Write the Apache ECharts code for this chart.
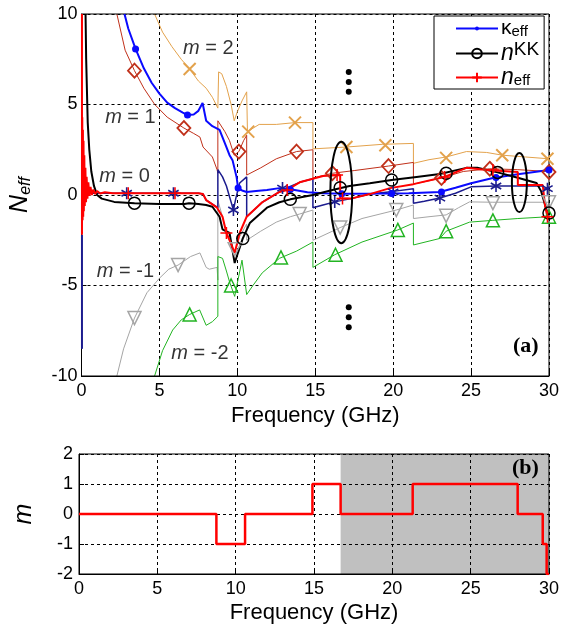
<!DOCTYPE html>
<html><head><meta charset="utf-8">
<script src="https://cdn.jsdelivr.net/npm/echarts@6/dist/echarts.min.js"></script>
<style>html,body{margin:0;padding:0;background:#fff}#c{width:562px;height:630px}</style>
</head><body><div id="c"></div>
<script>
// ---------- data ----------
const freqTicks = [0, 5, 10, 15, 20, 25, 30];
const neffTicks = [-10, -5, 0, 5, 10];
const mTicks = [-2, -1, 0, 1, 2];

// kappa_eff (blue, dots)
const kappaLine = [[2.76,10],[3.0,9.2],[3.47,8.07],[4.0,7.0],[4.5,6.2],[5.0,5.6],[5.5,5.1],[6.0,4.8],[6.5,4.55],[6.8,4.42],[7.2,4.45],[7.5,4.65],[7.77,5.08],[8.0,4.1],[8.4,3.8],[8.86,3.6],[9.0,3.3],[9.3,2.65],[9.5,2.2],[9.7,1.9],[9.95,1.0],[10.05,0.38],[10.3,0.25],[10.6,0.17],[11.2,0.22],[11.9,0.28],[12.7,0.38],[13.5,0.3],[14.5,0.15],[15.5,0.1],[17,0.07],[19.8,0.08],[21,0.1],[23,0.17],[24,0.4],[25,0.65],[26.4,0.94],[28,1.15],[30,1.38]];
const kappaMarks = [[3.47,8.07],[6.8,4.42],[10.05,0.38],[13.4,0.3],[16.7,0.07],[19.9,0.08],[23.1,0.17],[26.6,0.97],[30,1.38]];

// n^KK (black, circles)
const nkkLine = [[0.26,10],[0.3,7.5],[0.4,4.0],[0.5,2.5],[0.63,1.3],[0.8,0.5],[1.0,0.0],[1.3,-0.2],[2.1,-0.38],[3.4,-0.45],[5,-0.5],[6.6,-0.5],[6.9,-0.45],[7.5,-0.5],[8.0,-0.55],[8.4,-0.65],[8.86,-1.2],[9.05,-1.9],[9.5,-2.1],[9.83,-3.76],[10.0,-3.3],[10.35,-2.4],[10.8,-1.55],[11.9,-0.7],[12.7,-0.4],[13.4,-0.24],[14.85,0],[16.1,0.28],[17.2,0.5],[18.5,0.65],[19.9,0.83],[21.5,1.0],[23,1.16],[24.7,1.5],[25.4,1.5],[26.7,1.25],[28,0.95],[29.2,0.66],[29.5,0.2],[29.9,-1.0],[30,-1.1]];
const nkkMarks = [[3.4,-0.45],[6.9,-0.45],[10.35,-2.4],[13.4,-0.24],[16.6,0.4],[19.9,0.83],[23.4,1.2],[26.7,1.25],[30,-1.0]];

// n_eff (red, plus)
const neffLine = [[0.03,10],[0.03,-2.2],[0.05,4.3],[0.07,-1.4],[0.09,3.6],[0.11,-1.2],[0.13,3.0],[0.15,-0.9],[0.18,2.2],[0.21,-0.6],[0.25,1.5],[0.29,-0.4],[0.33,1.0],[0.38,-0.2],[0.44,0.7],[0.5,-0.05],[0.58,0.45],[0.66,0.0],[0.76,0.3],[0.88,0.05],[1.0,0.22],[1.2,0.08],[1.5,0.15],[2.0,0.1],[3.0,0.1],[6.0,0.1],[7.5,0.1],[7.8,0.05],[8.0,-0.28],[8.7,-0.7],[9.05,-1.2],[9.3,-2.1],[9.6,-2.7],[9.83,-3.2],[10.15,-2.1],[10.6,-1.2],[11.6,-0.4],[12.7,0.17],[13.2,0.28],[14,0.7],[15.5,1.05],[16.6,1.1],[16.6,-0.2],[17.3,-0.2],[18.5,0.05],[19.8,0.38],[21.3,0.6],[23,0.94],[23.3,1.0],[24.7,1.5],[26,1.38],[28,1.27],[28,0.55],[29.6,0.55],[29.75,-0.6],[29.9,-1.2],[30,-1.3]];
const neffMarks = [[3.0,0.1],[6.0,0.1],[9.3,-2.1],[13.2,0.28],[16.4,1.1],[16.75,-0.2],[23.3,1.0],[26.4,1.38],[29.9,-1.2]];

// branches m = 2 ... -2
const m2Line = [[4.69,10],[5.2,9.0],[5.8,8.2],[6.4,7.5],[6.94,6.96],[7.5,6.3],[8.0,5.9],[8.4,5.4],[8.75,4.8],[8.8,6.8],[9.0,6.7],[9.3,6.0],[9.6,5.0],[9.8,4.1],[10.0,4.6],[10.3,5.2],[10.6,5.7],[10.65,3.5],[11.4,3.9],[12.5,3.9],[13.7,4.0],[14.85,4.0],[14.85,2.55],[17.0,2.65],[19.3,2.8],[21.3,2.85],[21.3,1.75],[22.3,1.95],[23.4,2.1],[24.7,2.4],[26,2.35],[27,2.2],[28.5,2.1],[30,2.0]];
const m2Marks = [[6.94,6.96],[10.7,3.5],[13.7,4.0],[17.0,2.65],[19.5,2.75],[23.4,2.05],[27,2.2],[29.9,2.0]];

const m1Line = [[2.27,10],[2.8,8.0],[3.4,6.87],[4.0,5.9],[4.7,5.0],[5.5,4.3],[6.57,3.7],[7.2,3.4],[7.6,3.2],[7.8,2.65],[8.4,2.1],[8.7,1.4],[8.75,1.2],[8.75,4.1],[9.2,3.5],[9.5,3.0],[9.8,2.2],[10.1,2.4],[10.4,3.0],[10.6,3.3],[10.6,1.1],[11.5,1.5],[12.5,2.0],[13.8,2.4],[14.85,2.5],[14.85,0.94],[16.1,1.2],[17.5,1.35],[19.7,1.6],[21.3,1.8],[21.3,0.6],[23.1,0.94],[24.5,1.3],[26.2,1.45],[28,1.4],[30,1.3]];
const m1Marks = [[3.4,6.87],[6.57,3.7],[10.1,2.4],[13.8,2.4],[16.1,1.2],[19.7,1.6],[23.1,0.94],[26.2,1.45],[30,1.27]];

const m0Line = [[0.6,0.1],[2.9,0.1],[5.9,0.1],[7.5,0.1],[7.8,0.05],[8.0,-0.28],[8.75,-0.7],[8.75,1.4],[9.05,1.0],[9.3,0.5],[9.5,-0.1],[9.75,-0.83],[9.9,-0.2],[10.15,0.66],[10.6,1.0],[10.6,-1.2],[11.6,-0.4],[12.7,0.17],[12.9,0.3],[14,0.7],[14.85,0.9],[14.85,-0.7],[15.5,-0.55],[16.25,-0.38],[17.3,-0.2],[18.5,0.05],[20,0.2],[21.3,0.35],[21.3,-0.45],[22,-0.35],[23,-0.17],[24,0.1],[25,0.45],[26.6,0.5],[29.6,0.5],[29.7,0.3],[30,0.45]];
const m0Axis = [[0.03,-2.2],[0.03,-8.5]];
const m0Marks = [[2.9,0.1],[5.9,0.1],[9.75,-0.83],[12.9,0.38],[16.25,-0.38],[20,0.17],[23,-0.17],[26.6,0.5],[29.9,0.35]];

const mm1Line = [[2.27,-10],[2.7,-8.5],[3.4,-6.8],[4.2,-5.4],[5.0,-4.6],[5.6,-4.1],[6.2,-3.87],[7.0,-3.4],[7.6,-3.2],[8.0,-4.0],[8.2,-4.1],[8.7,-4.0],[8.75,-4.7],[8.75,-0.3],[9.05,-1.2],[9.3,-2.1],[9.6,-2.7],[9.83,-3.2],[10.15,-2.3],[10.6,-1.6],[10.6,-2.5],[11.5,-2.0],[12.5,-1.5],[13.4,-1.2],[14,-1.05],[14.85,-0.83],[14.85,-2.5],[16.6,-1.8],[18,-1.3],[20.2,-0.83],[21.3,-0.55],[21.3,-1.3],[22.3,-1.2],[23.4,-1.1],[24.2,-0.7],[24.9,-0.38],[26.4,-0.4],[28,-0.4],[30,-0.4]];
const mm1Marks = [[3.4,-6.8],[6.2,-3.87],[9.83,-3.0],[14.0,-1.05],[16.6,-1.8],[20.2,-0.83],[23.4,-1.15],[26.4,-0.45],[30,-0.4]];

const mm2Line = [[4.69,-10],[5.2,-8.6],[5.85,-7.46],[6.4,-6.9],[6.94,-6.6],[7.58,-6.35],[8.0,-7.2],[8.4,-7.0],[8.75,-6.7],[8.75,-3.4],[9.05,-3.5],[9.3,-4.2],[9.5,-4.8],[9.83,-5.6],[10.3,-3.6],[10.6,-5.5],[11.0,-5.0],[11.6,-4.3],[12.7,-3.5],[13.8,-3.1],[14.85,-2.6],[14.85,-4.0],[16.25,-3.3],[18,-2.6],[20.3,-1.93],[21.3,-1.55],[21.3,-2.76],[23,-2.4],[23.4,-2.0],[24.9,-1.5],[26.4,-1.4],[28,-1.3],[30,-1.2]];
const mm2Marks = [[6.94,-6.6],[9.6,-5.0],[12.8,-3.45],[16.3,-3.3],[20.3,-1.93],[23.4,-2.0],[26.4,-1.4],[30,-1.2]];

// annotations
const ellipses = [[16.67,0.14,0.7,2.8],[28.1,0.69,0.48,1.63]];
const dots = [[17.15,6.8],[17.15,6.25],[17.15,5.7],[17.15,-6.2],[17.15,-6.75],[17.15,-7.3]];
const branchLabels = [[8.14,8.07,'2'],[3.14,4.3,'1'],[2.76,1.0,'0'],[2.82,-4.25,'-1'],[7.6,-8.73,'-2']];

// panel (b): branch index m (step changes)
const mSteps = [[0,0],[8.77,-1],[10.6,0],[14.9,1],[16.7,0],[21.3,1],[28.0,0],[29.6,-1],[29.85,-2],[30,-2]];
const shadedRange = [16.7, 30];

// ---------- chart ----------
const FONT = "'Liberation Sans', Arial, sans-serif";
const C = {blue:'#0a0aff', black:'#000', red:'#ff0000', m2:'#e3a24c', m1:'#c0301a', m0:'#1c1c8e', mm1:'#a5a5a5', mm2:'#22b422'};
const ASTER = 'path://M0,-10L0,10M-8.66,-5L8.66,5M-8.66,5L8.66,-5';
const XCROSS = 'path://M-1,-1L1,1M-1,1L1,-1';
const PLUS = 'path://M0,-1L0,1M-1,0L1,0';
const SMALLDOT = 'path://M0,0L0.01,0M10,10L10.01,10M3,5A2,2 0 1,1 7,5A2,2 0 1,1 3,5Z';

function lineS(name, data, color, width, z, extra) {
  return Object.assign({type:'line', name, data, xAxisIndex:0, yAxisIndex:0, showSymbol:false, symbol:'none',
    lineStyle:{color, width}, itemStyle:{color}, z, silent:true, animation:false, clip:true}, extra||{});
}
function markS(data, symbol, size, fill, stroke, bw, z, rotate) {
  return {type:'scatter', data, xAxisIndex:0, yAxisIndex:0, symbol, symbolSize:size, symbolRotate:rotate||0,
    symbolKeepAspect:true, itemStyle:{color:fill, borderColor:stroke, borderWidth:bw, opacity:1}, z, silent:true, animation:false};
}

function axisCommon(grid) {
  return {
    gridIndex:grid, type:'value',
    axisLine:{show:true, onZero:false, lineStyle:{color:'#000', width:1}},
    axisTick:{show:true, inside:true, length:5, lineStyle:{color:'#000'}},
    splitLine:{show:true, lineStyle:{color:'#000', type:[3,3], width:1}},
    axisLabel:{color:'#000', fontSize:18, fontFamily:FONT},
    nameTextStyle:{color:'#000', fontFamily:FONT}
  };
}

const option = {
  animation:false,
  backgroundColor:'#fff',
  grid:[
    {left:81, top:14, width:468, height:362, show:true, borderColor:'#000', borderWidth:1, backgroundColor:'transparent', z:3},
    {left:79, top:454, width:470, height:120, show:true, borderColor:'#000', borderWidth:1, backgroundColor:'transparent', z:3}
  ],
  xAxis:[
    Object.assign(axisCommon(0), {min:freqTicks[0], max:freqTicks[freqTicks.length-1], interval:5,
      axisLabel:{color:'#000', fontSize:18, fontFamily:FONT, margin:6},
      name:'Frequency (GHz)', nameLocation:'middle', nameGap:28,
      nameTextStyle:{color:'#000', fontSize:22, fontFamily:FONT}}),
    Object.assign(axisCommon(1), {min:freqTicks[0], max:freqTicks[freqTicks.length-1], interval:5, z:4,
      axisLabel:{color:'#000', fontSize:18, fontFamily:FONT, margin:6},
      name:'Frequency (GHz)', nameLocation:'middle', nameGap:28,
      nameTextStyle:{color:'#000', fontSize:22, fontFamily:FONT}})
  ],
  yAxis:[
    Object.assign(axisCommon(0), {min:neffTicks[0], max:neffTicks[neffTicks.length-1], interval:5,
      axisLabel:{color:'#000', fontSize:18, fontFamily:FONT, margin:4},
      name:'{n|N}{s|eff}', nameLocation:'middle', nameGap:48, nameRotate:90,
      nameTextStyle:{color:'#000', fontFamily:FONT, rich:{
        n:{fontSize:25, fontStyle:'italic', fontFamily:FONT},
        s:{fontSize:16, fontStyle:'italic', fontFamily:FONT, verticalAlign:'bottom', padding:[10,0,0,0]}}}}),
    Object.assign(axisCommon(1), {min:mTicks[0], max:mTicks[mTicks.length-1], interval:1, z:4,
      axisLabel:{color:'#000', fontSize:18, fontFamily:FONT, margin:6},
      name:'m', nameLocation:'middle', nameGap:42, nameRotate:90,
      nameTextStyle:{color:'#000', fontSize:25, fontStyle:'italic', fontFamily:FONT}})
  ],
  legend:{
    data:['kappa','nKK','neff'], orient:'vertical', left:434, top:16,
    backgroundColor:'#fff', borderColor:'#000', borderWidth:1, borderRadius:0,
    padding:[2,5,0,21], itemWidth:42, itemHeight:12, itemGap:1, selectedMode:false, z:10,
    formatter: function(nm){ return {kappa:'{k|κ}{s|eff}', nKK:'{i|n}{p|KK}', neff:'{i|n}{s|eff}'}[nm]; },
    textStyle:{color:'#000', fontFamily:FONT, padding:[0,0,0,-2], rich:{
      k:{fontSize:21, fontFamily:FONT, lineHeight:20},
      i:{fontSize:23, fontStyle:'italic', fontFamily:FONT, lineHeight:20},
      s:{fontSize:15, fontFamily:FONT, verticalAlign:'bottom', padding:[7,0,0,0]},
      p:{fontSize:19, fontFamily:FONT, verticalAlign:'top', padding:[0,0,7,0]}}}
  },
  graphic:[
    {type:'text', left:513, top:335, style:{text:'(a)', font:"bold 22px 'Liberation Serif', 'Times New Roman', serif", fill:'#000'}, z:20},
    {type:'text', left:512, top:457, style:{text:'(b)', font:"bold 22px 'Liberation Serif', 'Times New Roman', serif", fill:'#000'}, z:20}
  ],
  series:[
    lineS('m2', m2Line, C.m2, 1, 2),
    lineS('m1', m1Line, C.m1, 1, 2),
    lineS('mm1', mm1Line, C.mm1, 1, 2),
    lineS('mm2', mm2Line, C.mm2, 1, 2),
    lineS('m0', m0Line, C.m0, 1.5, 3),
    lineS('m0axis', m0Axis, C.m0, 2, 3),
    lineS('kappa', kappaLine, C.blue, 2, 4, {symbol:SMALLDOT, symbolKeepAspect:true, itemStyle:{color:C.blue, borderWidth:0}}),
    lineS('nKK', nkkLine, C.black, 2, 4, {symbol:'circle', itemStyle:{color:'none', borderColor:C.black, borderWidth:1.5}}),
    lineS('neff', neffLine, C.red, 2, 5, {symbol:PLUS, itemStyle:{color:'none', borderColor:C.red, borderWidth:1.5}}),
    markS(m2Marks, XCROSS, 12, 'none', C.m2, 2, 6),
    markS(m1Marks, 'diamond', [13,14], 'none', C.m1, 1.8, 6),
    markS(mm1Marks, 'triangle', 13, 'none', C.mm1, 1.5, 6, 180),
    markS(mm2Marks, 'triangle', 13, 'none', C.mm2, 1.5, 6),
    markS(m0Marks, ASTER, 12, 'none', C.m0, 1.6, 6),
    markS(kappaMarks, 'circle', 7, C.blue, C.blue, 0, 7),
    markS(nkkMarks, 'circle', 12, 'none', C.black, 1.5, 7),
    markS(neffMarks, PLUS, 12, 'none', C.red, 1.5, 8),
    markS(dots, 'circle', 6, '#000', '#000', 0, 8),
    {type:'custom', xAxisIndex:0, yAxisIndex:0, data:ellipses, z:9, silent:true, animation:false,
      renderItem:function(params, api){
        const c = api.coord([api.value(0), api.value(1)]);
        const s = api.size([api.value(2), api.value(3)]);
        return {type:'ellipse', shape:{cx:c[0], cy:c[1], rx:s[0], ry:s[1]}, style:{fill:'none', stroke:'#000', lineWidth:2}};
      }},
    {type:'scatter', xAxisIndex:0, yAxisIndex:0, data:branchLabels, symbolSize:1, itemStyle:{color:'transparent'}, z:9, silent:true,
      label:{show:true, position:'inside', color:'#000', fontFamily:FONT, fontSize:20,
        formatter:function(p){ return '{i|m} = ' + p.value[2]; },
        rich:{i:{fontStyle:'italic', fontSize:20, fontFamily:FONT}}}},
    // panel (b)
    {type:'line', name:'shade', xAxisIndex:1, yAxisIndex:1, data:[], z:1, silent:true,
      markArea:{silent:true, itemStyle:{color:'#c0c0c0', opacity:1}, data:[[{xAxis:shadedRange[0]},{xAxis:shadedRange[1]}]]}},
    {type:'line', name:'mstep', xAxisIndex:1, yAxisIndex:1, data:mSteps, step:'end', showSymbol:false, symbol:'none',
      lineStyle:{color:'#ff0000', width:2.5}, z:6, silent:true}
  ]
};
const chart = echarts.init(document.getElementById('c'), null, {renderer:'canvas'});
chart.setOption(option);
</script></body></html>
